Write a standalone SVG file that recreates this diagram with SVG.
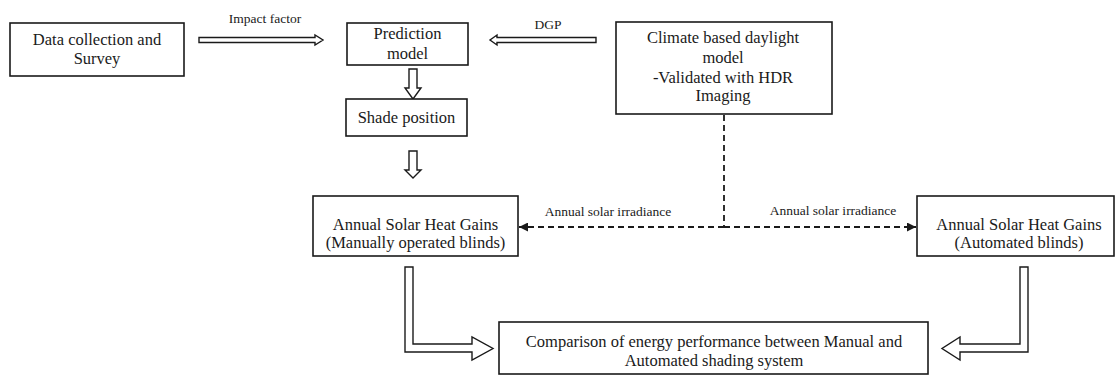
<svg xmlns="http://www.w3.org/2000/svg" width="1119" height="376" viewBox="0 0 1119 376">
  <style>
    .box { fill: #ffffff; stroke: #1a1a1a; stroke-width: 1.6; }
    .t { font-family: "Liberation Serif", "Times New Roman", serif; font-size: 16.5px; fill: #1a1a1a; text-anchor: middle; }
    .lbl { font-family: "Liberation Serif", "Times New Roman", serif; font-size: 13.5px; fill: #1a1a1a; text-anchor: middle; }
    .blk { fill: #ffffff; stroke: #1a1a1a; stroke-width: 1.4; stroke-linejoin: miter; }
    .dash { fill: none; stroke: #1a1a1a; stroke-width: 1.8; stroke-dasharray: 6 4; }
  </style>
  <defs>
    <marker id="ah" viewBox="0 0 10 10" refX="10" refY="5" markerWidth="5" markerHeight="5" orient="auto-start-reverse" markerUnits="strokeWidth">
      <path d="M0,0 L10,5 L0,10 Z" fill="#1a1a1a"/>
    </marker>
  </defs>
  <rect width="1119" height="376" fill="#ffffff"/>

  <g id="connectors">
    <polygon class="blk" points="199,37.5 315,37.5 315,35 323,40 315,45 315,42.5 199,42.5"/>
    <polygon class="blk" points="596,37.5 497,37.5 497,35 490,40 497,45 497,42.5 596,42.5"/>
    <polygon class="blk" points="409,69 417,69 417,88 421,88 413,99 405,88 409,88"/>
    <polygon class="blk" points="409,151 417,151 417,170 421,170 413,178 405,170 409,170"/>
    <polygon class="blk" points="405,267 413,267 413,344 472,344 472,337 493,348.5 472,360 472,352 405,352"/>
    <polygon class="blk" points="1020,267 1028,267 1028,352 960,352 960,360 942,348.5 960,337 960,344 1020,344"/>
    <line class="dash" x1="724" y1="115" x2="724" y2="227"/>
    <line class="dash" x1="724" y1="227" x2="519" y2="227" marker-end="url(#ah)"/>
    <line class="dash" x1="724" y1="227" x2="916" y2="227" marker-end="url(#ah)"/>
    <text class="lbl" x="265" y="23">Impact factor</text>
    <text class="lbl" x="548" y="29">DGP</text>
    <text class="lbl" x="608" y="216">Annual solar irradiance</text>
    <text class="lbl" x="833" y="215">Annual solar irradiance</text>
  </g>

  <g id="data-collection">
    <rect class="box" x="10" y="23" width="174" height="53"/>
    <text class="t" x="97" y="45">Data collection and</text>
    <text class="t" x="97" y="64">Survey</text>
  </g>

  <g id="prediction-model">
    <rect class="box" x="347" y="23" width="121" height="42"/>
    <text class="t" x="407.5" y="39">Prediction</text>
    <text class="t" x="407.5" y="59">model</text>
  </g>

  <g id="shade-position">
    <rect class="box" x="346" y="99" width="121" height="37"/>
    <text class="t" x="406.5" y="123">Shade position</text>
  </g>

  <g id="climate-model">
    <rect class="box" x="616" y="22" width="216" height="92"/>
    <text class="t" x="723" y="43">Climate based daylight</text>
    <text class="t" x="723" y="63">model</text>
    <text class="t" x="723" y="83">-Validated with HDR</text>
    <text class="t" x="723" y="101">Imaging</text>
  </g>

  <g id="manual-shg">
    <rect class="box" x="313" y="196" width="205" height="60"/>
    <text class="t" x="415.5" y="230">Annual Solar Heat Gains</text>
    <text class="t" x="415.5" y="248">(Manually operated blinds)</text>
  </g>

  <g id="automated-shg">
    <rect class="box" x="917" y="196" width="197" height="60"/>
    <text class="t" x="1019" y="230">Annual Solar Heat Gains</text>
    <text class="t" x="1019" y="248">(Automated blinds)</text>
  </g>

  <g id="comparison">
    <rect class="box" x="499" y="322" width="429" height="52"/>
    <text class="t" x="714" y="347">Comparison of energy performance between Manual and</text>
    <text class="t" x="714" y="366">Automated shading system</text>
  </g>
</svg>
